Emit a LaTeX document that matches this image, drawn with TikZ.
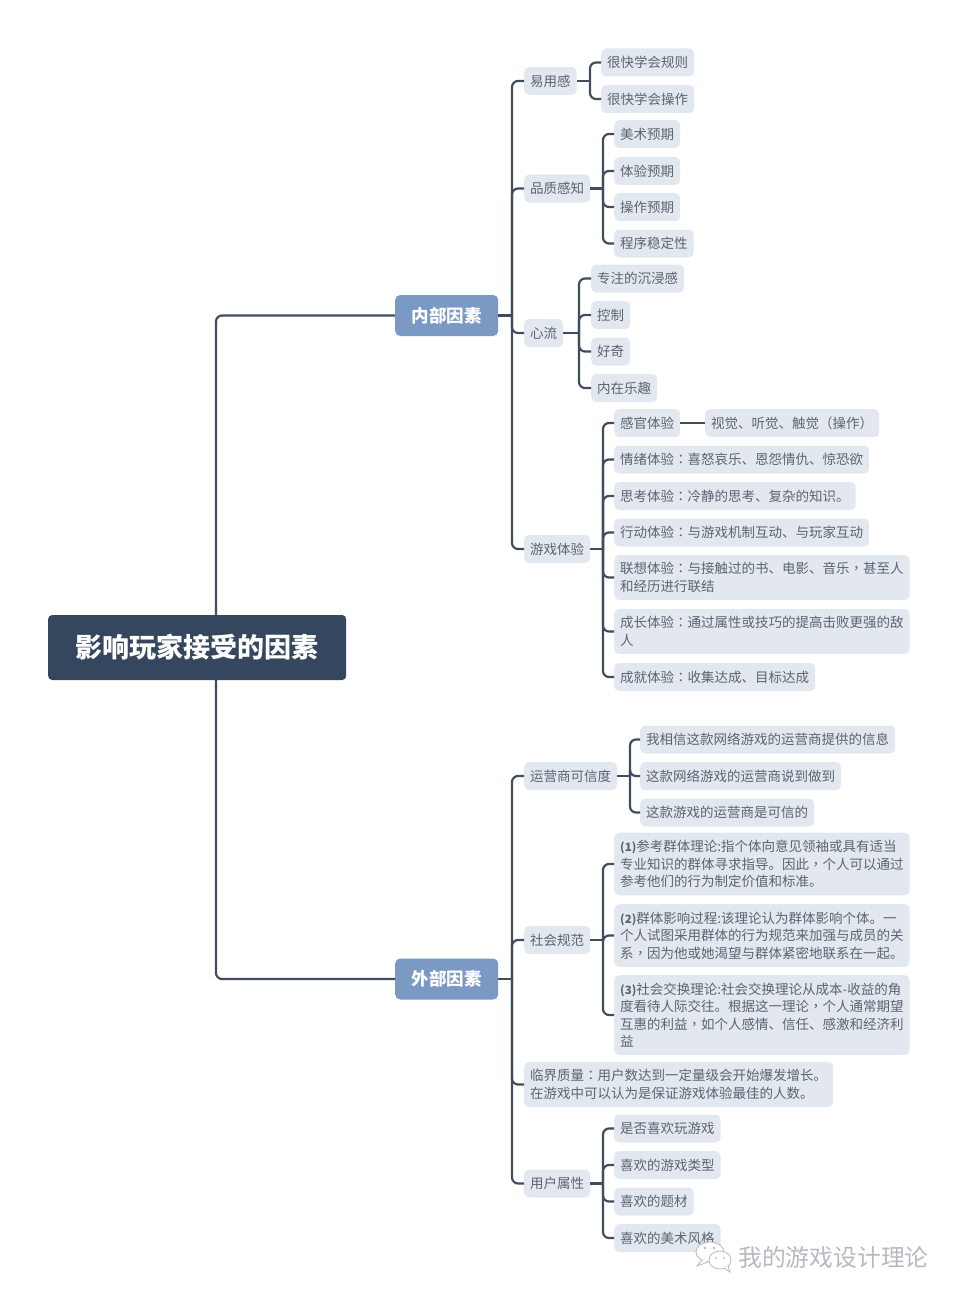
\documentclass[tikz,border=0pt]{standalone}
\usepackage{fontspec}
\setmainfont{Noto Sans CJK SC}
\newfontfamily\tcfont{Noto Sans CJK TC}
\newcommand{\zc}{{\tcfont ：}}
\newcommand{\zd}{{\tcfont ，}}
\newcommand{\numtag}[1]{{\fontsize{11.5}{17.5}\selectfont\bfseries (#1)}}
\definecolor{rootblue}{HTML}{34475F}
\definecolor{midblue}{HTML}{7B9AC3}
\definecolor{leafgray}{HTML}{E3E8F0}
\definecolor{leaftext}{HTML}{5C6470}
\definecolor{linegray}{HTML}{414C5C}
\definecolor{markgray}{HTML}{B6BABF}
\tikzset{
  rootbox/.style={fill=rootblue,text=white,rounded corners=4pt,anchor=west,inner sep=0pt,minimum width=298pt,minimum height=65pt,font=\fontsize{27}{32}\selectfont\bfseries},
  factorbox/.style={fill=midblue,text=white,rounded corners=5pt,anchor=west,inner sep=0pt,minimum width=103pt,minimum height=41pt,font=\fontsize{17.5}{21}\selectfont\bfseries},
  itembox/.style={fill=leafgray,text=leaftext,rounded corners=5pt,anchor=west,inner xsep=6pt,inner ysep=7.5pt,minimum height=28pt,align=left,font=\fontsize{13.5}{17.5}\selectfont},
  link/.style={draw=linegray,line width=2.2pt,rounded corners=6pt},
}
\begin{document}
\begin{tikzpicture}[x=1pt,y=-1pt]
    \useasboundingbox (0,0) rectangle (960,1300);

    % root and the two factors
    \node[rootbox] (root) at (48,647.5) {影响玩家接受的因素};
    \node[factorbox] (inner) at (395,315.5) {内部因素};
    \node[factorbox] (outer) at (395,979) {外部因素};

    % first level of the inner factor
    \node[itembox] (easy) at (524,81) {易用感};
    \node[itembox] (quality) at (524,188.5) {品质感知};
    \node[itembox] (flow) at (524,333) {心流};
    \node[itembox] (play) at (524,549) {游戏体验};

    \node[itembox] (easyA) at (601,62.5) {很快学会规则};
    \node[itembox] (easyB) at (601,99) {很快学会操作};

    \node[itembox] (qualA) at (614,134) {美术预期};
    \node[itembox] (qualB) at (614,171) {体验预期};
    \node[itembox] (qualC) at (614,207) {操作预期};
    \node[itembox] (qualD) at (614,243.5) {程序稳定性};

    \node[itembox] (flowA) at (591,278.5) {专注的沉浸感};
    \node[itembox] (flowB) at (591,315) {控制};
    \node[itembox] (flowC) at (591,351.5) {好奇};
    \node[itembox] (flowD) at (591,388) {内在乐趣};

    \node[itembox] (playA) at (614,423) {感官体验};
    \node[itembox] (sense) at (705,423) {视觉、听觉、触觉{\tcfont （}操作{\tcfont ）}};
    \node[itembox] (playB) at (614,459.5) {情绪体验\zc 喜怒哀乐、恩怨情仇、惊恐欲};
    \node[itembox] (playC) at (614,496) {思考体验\zc 冷静的思考、复杂的知识。};
    \node[itembox] (playD) at (614,532.5) {行动体验\zc 与游戏机制互动、与玩家互动};
    \node[itembox] (playE) at (614,577.5) {联想体验\zc 与接触过的书、电影、音乐\zd 甚至人\\和经历进行联结};
    \node[itembox] (playF) at (614,631.5) {成长体验\zc 通过属性或技巧的提高击败更强的敌\\人};
    \node[itembox] (playG) at (614,677) {成就体验\zc 收集达成、目标达成};

    % first level of the outer factor
    \node[itembox] (trust) at (524,776) {运营商可信度};
    \node[itembox] (norm) at (524,940) {社会规范};
    \node[itembox] (mass) at (524,1084.5) {临界质量\zc 用户数达到一定量级会开始爆发增长。\\在游戏中可以认为是保证游戏体验最佳的人数。};
    \node[itembox] (user) at (524,1183.5) {用户属性};

    \node[itembox] (trustA) at (640,739.5) {我相信这款网络游戏的运营商提供的信息};
    \node[itembox] (trustB) at (640,776) {这款网络游戏的运营商说到做到};
    \node[itembox] (trustC) at (640,812.5) {这款游戏的运营商是可信的};

    \node[itembox] (normA) at (614,864) {\numtag{1}参考群体理论:指个体向意见领袖或具有适当\\专业知识的群体寻求指导。因此\zd 个人可以通过\\参考他们的行为制定价值和标准。};
    \node[itembox] (normB) at (614,935.5) {\numtag{2}群体影响过程:该理论认为群体影响个体。一\\个人试图采用群体的行为规范来加强与成员的关\\系\zd 因为他或她渴望与群体紧密地联系在一起。};
    \node[itembox] (normC) at (614,1015) {\numtag{3}社会交换理论:社会交换理论从成本-收益的角\\度看待人际交往。根据这一理论\zd 个人通常期望\\互惠的利益\zd 如个人感情、信任、感激和经济利\\益};

    \node[itembox] (userA) at (614,1128.5) {是否喜欢玩游戏};
    \node[itembox] (userB) at (614,1165) {喜欢的游戏类型};
    \node[itembox] (userC) at (614,1201.5) {喜欢的题材};
    \node[itembox] (userD) at (614,1238) {喜欢的美术风格};

    % trunks
    \coordinate (rootx) at (216,0);
    \draw[link] (rootx |- root.north) |- (inner.west);
    \draw[link] (rootx |- root.south) |- (outer.west);

    \coordinate (innerx) at (512,315.5);
    \coordinate (outerx) at (512,979);
    \draw[link] (inner.east) -- (innerx);
    \draw[link] (outer.east) -- (outerx);
    \foreach \kid in {easy,quality,flow,play}
      \draw[link] (innerx) |- (\kid.west);
    \foreach \kid in {trust,norm,mass,user}
      \draw[link] (outerx) |- (\kid.west);

    % brackets
    \foreach \top/\xpos/\kids in {easy/590/{easyA,easyB},
        quality/603/{qualA,qualB,qualC,qualD},
        flow/579/{flowA,flowB,flowC,flowD},
        play/603/{playA,playB,playC,playD,playE,playF,playG},
        trust/630/{trustA,trustB,trustC},
        norm/603/{normA,normB,normC},
        user/603/{userA,userB,userC,userD}} {
      \coordinate (fork) at (\xpos,0);
      \draw[link] (\top.east) -- (fork |- \top.east);
      \foreach \kid in \kids
        \draw[link] (fork |- \top.east) |- (\kid.west);
    }
    \draw[link] (playA) -- (sense);

    % watermark
    \draw[markgray,fill=white,line width=0.8pt] (710,1252) ellipse (14 and 10);
    \draw[markgray,fill=white,line width=0.8pt] (702,1260) -- (697,1266) -- (708,1262);
    \draw[markgray,fill=white,line width=0.8pt] (720,1260) ellipse (11 and 9);
    \draw[markgray,fill=white,line width=0.8pt] (724,1268) -- (730,1272) -- (728,1266);
    \fill[markgray] (705,1248) circle (1.3) (714,1248) circle (1.3) (716,1258) circle (1) (724,1258) circle (1);
    \node[anchor=west,inner sep=0pt,text=markgray,font=\fontsize{23.8}{28}\selectfont] (mark) at (738,1257) {我的游戏设计理论};
\end{tikzpicture}
\end{document}
